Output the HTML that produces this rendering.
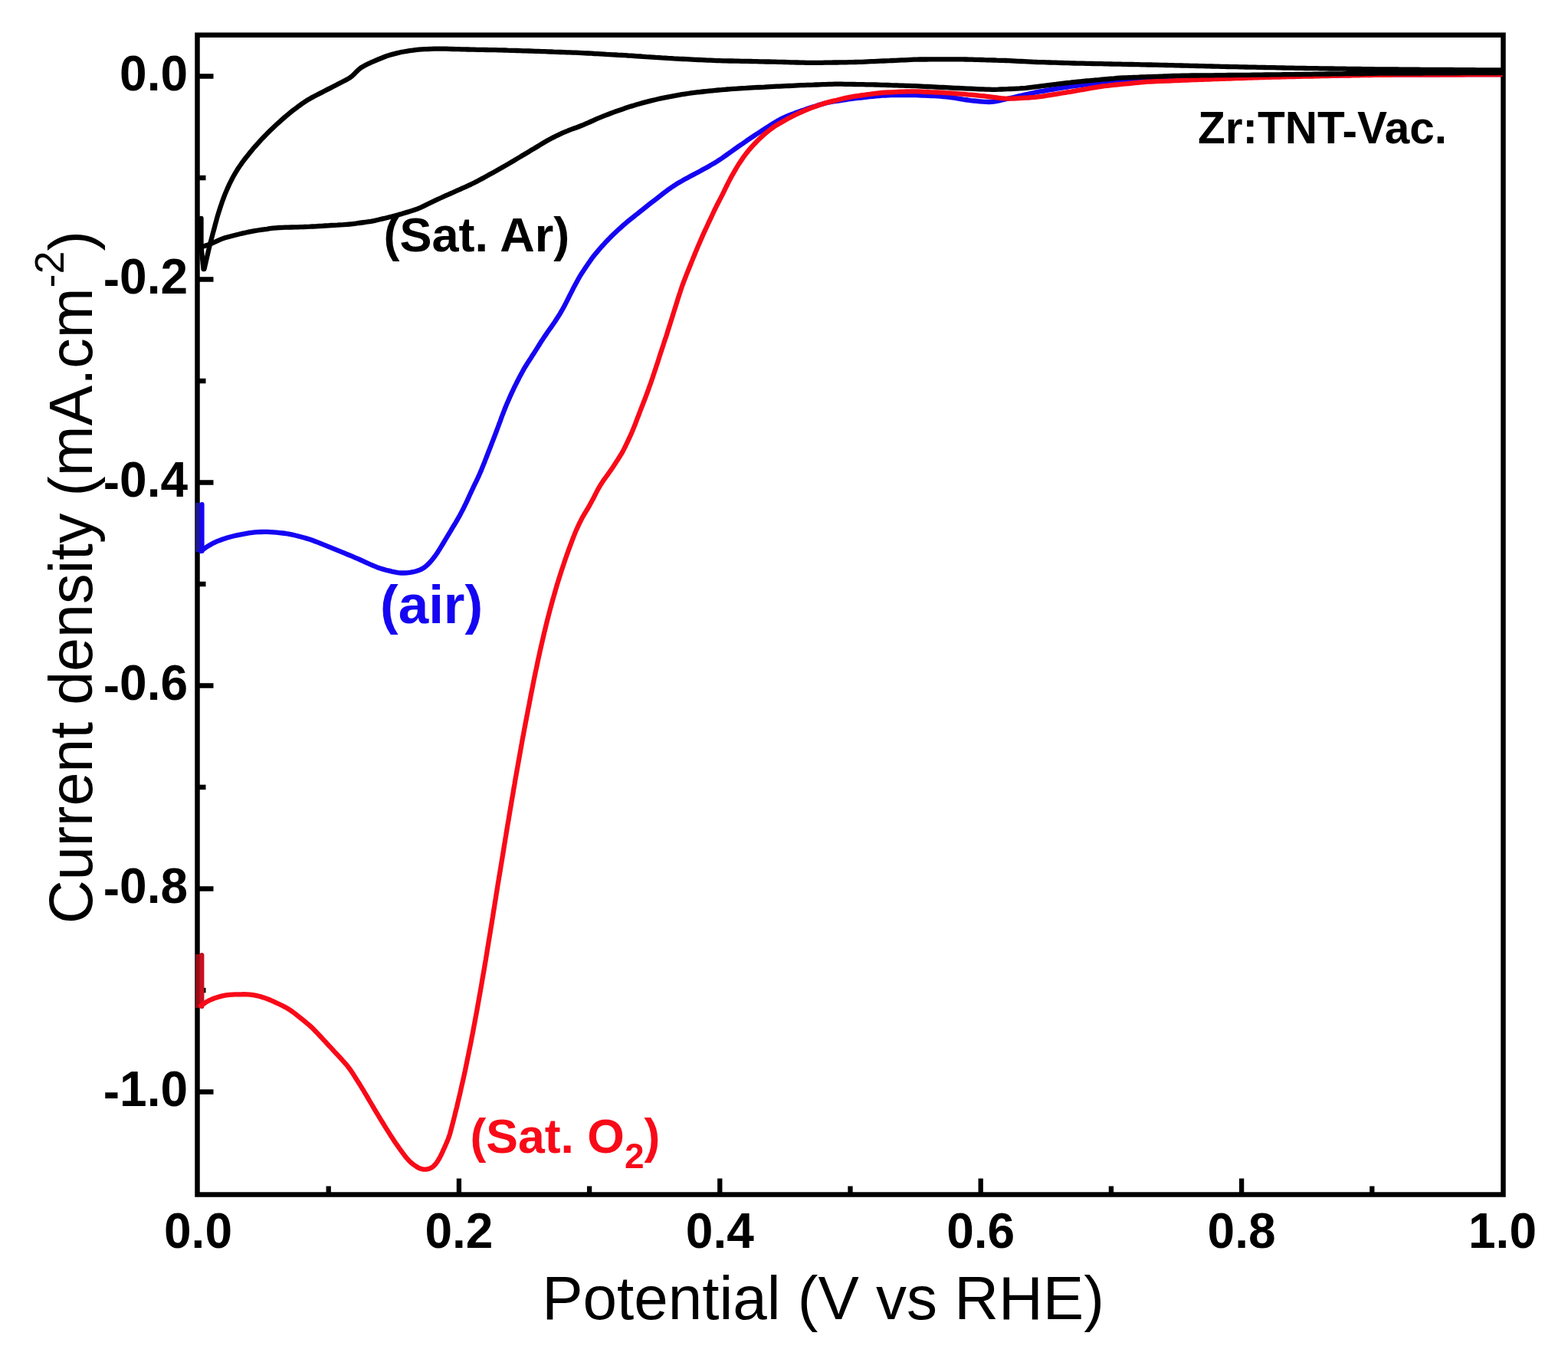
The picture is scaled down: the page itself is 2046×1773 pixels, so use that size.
<!DOCTYPE html>
<html><head><meta charset="utf-8"><title>Current density vs Potential</title>
<style>html,body{margin:0;padding:0;background:#fff;}svg{display:block;}</style>
</head><body>
<svg width="2046" height="1773" viewBox="0 0 2046 1773">
<rect width="100%" height="100%" fill="#fff"/>
<rect x="257.5" y="45.7" width="1704.0" height="1512.8" fill="none" stroke="#000" stroke-width="6.5"/>
<path d="M428.7,1558.5V1547.5 M598.9,1558.5V1537.5 M769.1,1558.5V1547.5 M939.3,1558.5V1537.5 M1109.5,1558.5V1547.5 M1279.7,1558.5V1537.5 M1449.9,1558.5V1547.5 M1620.1,1558.5V1537.5 M1790.3,1558.5V1547.5 M257.5,99.5H278.5 M257.5,232.0H268.5 M257.5,364.5H278.5 M257.5,497.0H268.5 M257.5,629.5H278.5 M257.5,762.0H268.5 M257.5,894.5H278.5 M257.5,1027.0H268.5 M257.5,1159.5H278.5 M257.5,1292.0H268.5 M257.5,1424.5H278.5" stroke="#000" stroke-width="6.3" stroke-linecap="butt"/>
<g fill="none" stroke-linejoin="round" stroke-linecap="round">
<path d="M258.2,656 V720" stroke="#1c1890" stroke-width="6" stroke-linecap="butt"/>
<path d="M263.6,658 V719" stroke="#1505f2" stroke-width="6"/>
<path d="M262.0,719.0 L265.2,716.7 L268.5,714.4 L271.9,712.2 L275.3,710.2 L278.8,708.3 L282.4,706.7 L286.1,705.2 L289.9,703.8 L293.7,702.5 L297.5,701.3 L301.3,700.3 L305.2,699.3 L309.1,698.4 L313.0,697.6 L316.9,696.8 L320.9,696.1 L324.8,695.4 L328.8,694.9 L332.7,694.4 L336.7,694.1 L340.7,694.0 L344.7,693.9 L348.7,693.9 L352.7,694.1 L356.7,694.4 L360.6,694.7 L364.6,695.1 L368.6,695.5 L372.6,696.0 L376.5,696.6 L380.4,697.4 L384.3,698.3 L388.2,699.2 L392.1,700.3 L395.9,701.3 L399.8,702.4 L403.6,703.5 L407.4,704.8 L411.1,706.2 L414.9,707.6 L418.6,709.1 L422.3,710.6 L426.0,712.1 L429.7,713.6 L433.4,715.1 L437.1,716.6 L440.8,718.1 L444.5,719.6 L448.2,721.1 L451.9,722.7 L455.7,724.2 L459.3,725.7 L463.0,727.3 L466.7,728.9 L470.4,730.5 L474.0,732.1 L477.6,733.8 L481.3,735.5 L484.9,737.1 L488.6,738.7 L492.3,740.2 L496.1,741.5 L499.9,742.6 L503.7,743.7 L507.6,744.6 L511.5,745.6 L515.4,746.4 L519.3,747.1 L523.2,747.5 L527.2,747.5 L531.1,747.3 L535.0,746.9 L539.0,746.2 L542.8,745.3 L546.5,744.1 L550.1,742.5 L553.4,740.5 L556.4,738.1 L559.3,735.4 L562.0,732.5 L564.6,729.4 L567.0,726.3 L569.4,723.0 L571.6,719.7 L573.7,716.3 L575.8,712.9 L577.9,709.5 L579.9,706.1 L582.0,702.7 L584.1,699.2 L586.1,695.8 L588.2,692.4 L590.2,688.9 L592.3,685.5 L594.4,682.1 L596.4,678.6 L598.4,675.2 L600.3,671.7 L602.2,668.1 L604.1,664.6 L605.8,661.0 L607.6,657.4 L609.3,653.8 L611.0,650.1 L612.6,646.5 L614.3,642.9 L616.0,639.2 L617.7,635.6 L619.4,632.0 L621.2,628.4 L622.9,624.8 L624.6,621.2 L626.2,617.5 L627.8,613.9 L629.3,610.1 L630.8,606.4 L632.3,602.7 L633.7,599.0 L635.2,595.3 L636.6,591.5 L638.1,587.8 L639.5,584.1 L641.0,580.3 L642.4,576.6 L643.9,572.9 L645.3,569.1 L647.1,564.5 L648.5,560.7 L649.9,557.0 L651.3,553.2 L652.7,549.5 L654.0,545.7 L655.4,542.0 L656.9,538.2 L658.3,534.5 L659.8,530.8 L661.3,527.1 L662.9,523.4 L664.5,519.7 L666.1,516.1 L667.8,512.4 L669.5,508.8 L671.2,505.2 L673.0,501.6 L674.8,498.0 L676.6,494.5 L678.4,490.9 L680.3,487.4 L682.2,483.9 L684.2,480.4 L686.3,477.0 L688.4,473.6 L690.6,470.2 L692.8,466.9 L694.9,463.5 L697.1,460.2 L699.2,456.8 L701.4,453.4 L703.5,450.0 L705.6,446.6 L707.8,443.3 L710.0,439.9 L712.3,436.6 L714.5,433.3 L716.8,430.0 L719.1,426.8 L721.4,423.5 L723.7,420.2 L725.9,416.8 L728.0,413.5 L730.2,410.1 L732.2,406.7 L734.2,403.2 L736.1,399.7 L738.0,396.1 L739.8,392.6 L741.6,389.0 L743.4,385.4 L745.2,381.9 L747.0,378.3 L748.8,374.7 L750.7,371.2 L752.6,367.7 L754.5,364.2 L756.5,360.7 L758.6,357.3 L760.8,354.0 L763.0,350.6 L765.3,347.3 L767.5,344.0 L769.8,340.7 L772.1,337.4 L774.5,334.3 L777.0,331.1 L779.6,328.1 L782.2,325.0 L784.8,322.0 L787.5,319.1 L790.2,316.2 L793.0,313.3 L795.8,310.4 L798.6,307.6 L801.5,304.8 L804.4,302.0 L807.3,299.3 L810.3,296.6 L813.3,293.9 L816.3,291.3 L819.3,288.7 L822.4,286.2 L825.6,283.7 L828.7,281.2 L831.9,278.8 L835.0,276.3 L838.2,273.8 L841.3,271.3 L844.4,268.8 L847.5,266.3 L850.7,263.8 L853.8,261.4 L857.0,259.0 L860.2,256.5 L863.3,254.1 L866.5,251.6 L869.6,249.2 L872.8,246.8 L876.1,244.5 L879.4,242.3 L882.8,240.1 L886.3,238.1 L889.7,236.1 L893.2,234.1 L896.7,232.2 L900.2,230.3 L903.8,228.4 L907.3,226.5 L910.8,224.7 L914.4,222.8 L917.9,220.8 L921.4,218.9 L924.9,216.9 L928.3,214.9 L931.8,212.9 L935.2,210.9 L938.6,208.7 L941.9,206.5 L945.2,204.2 L948.4,201.9 L951.7,199.5 L954.9,197.2 L958.2,194.9 L961.4,192.6 L965.6,189.7 L968.9,187.5 L972.1,185.2 L975.4,182.9 L978.7,180.7 L982.1,178.4 L985.4,176.2 L988.7,174.0 L992.1,171.8 L995.4,169.6 L998.8,167.5 L1002.2,165.3 L1005.5,163.1 L1008.9,161.0 L1012.4,159.0 L1015.8,157.0 L1019.3,155.1 L1022.9,153.3 L1026.6,151.7 L1030.3,150.2 L1034.0,148.8 L1037.7,147.3 L1041.5,146.0 L1045.3,144.6 L1049.1,143.4 L1052.9,142.1 L1056.7,140.8 L1060.5,139.6 L1064.3,138.4 L1068.1,137.1 L1071.9,136.0 L1075.7,134.9 L1079.6,134.0 L1083.5,133.2 L1087.5,132.5 L1091.4,131.9 L1095.4,131.3 L1099.3,130.7 L1103.3,130.1 L1107.2,129.5 L1111.2,128.9 L1115.2,128.4 L1119.1,127.9 L1123.1,127.5 L1127.1,127.0 L1131.1,126.6 L1135.1,126.2 L1139.0,125.8 L1143.0,125.4 L1147.0,125.1 L1151.0,124.7 L1155.0,124.5 L1159.0,124.3 L1163.0,124.2 L1167.0,124.1 L1171.0,124.1 L1175.0,124.1 L1179.0,124.1 L1183.0,124.1 L1187.0,124.1 L1191.0,124.2 L1195.0,124.2 L1199.0,124.3 L1203.0,124.5 L1207.0,124.7 L1211.0,124.9 L1215.0,125.0 L1219.0,125.2 L1223.0,125.4 L1227.0,125.7 L1230.9,126.0 L1234.9,126.4 L1238.9,126.8 L1242.8,127.4 L1246.8,128.0 L1250.7,128.7 L1254.7,129.3 L1258.6,130.0 L1262.6,130.5 L1266.6,131.1 L1270.5,131.5 L1274.5,131.9 L1278.5,132.3 L1282.5,132.7 L1286.5,132.9 L1290.4,133.0 L1294.4,132.8 L1298.3,132.3 L1302.2,131.6 L1306.1,130.8 L1310.0,129.9 L1313.9,129.0 L1317.8,128.1 L1321.7,127.2 L1325.6,126.3 L1329.5,125.4 L1333.4,124.5 L1337.3,123.6 L1341.2,122.7 L1345.1,121.8 L1349.0,121.0 L1352.9,120.2 L1356.9,119.4 L1360.8,118.8 L1364.7,118.1 L1368.7,117.4 L1372.6,116.8 L1376.6,116.1 L1380.5,115.5 L1384.5,114.8 L1388.4,114.2 L1392.4,113.6 L1396.3,113.0 L1400.3,112.4 L1404.3,111.8 L1408.2,111.3 L1412.2,110.8 L1416.2,110.3 L1420.1,109.8 L1424.1,109.3 L1428.1,108.8 L1432.1,108.3 L1436.0,107.8 L1440.0,107.3 L1444.0,106.8 L1447.9,106.3 L1452.9,105.8 L1456.9,105.4 L1460.9,105.0 L1464.9,104.7 L1468.9,104.5 L1472.9,104.3 L1476.9,104.1 L1480.9,103.9 L1484.8,103.7 L1488.8,103.5 L1492.8,103.3 L1496.8,103.0 L1500.8,102.8 L1504.8,102.6 L1508.8,102.4 L1512.8,102.2 L1516.8,102.0 L1520.8,101.8 L1524.8,101.6 L1528.8,101.4 L1532.8,101.3 L1536.8,101.1 L1540.8,101.0 L1544.8,100.9 L1548.8,100.8 L1552.8,100.8 L1556.8,100.7 L1560.8,100.6 L1564.8,100.6 L1568.8,100.5 L1572.8,100.4 L1576.8,100.4 L1580.8,100.3 L1584.8,100.3 L1588.8,100.2 L1592.8,100.1 L1596.8,100.1 L1600.8,100.0 L1604.8,100.0 L1608.8,99.9 L1612.8,99.8 L1616.8,99.8 L1620.8,99.7 L1624.8,99.7 L1628.8,99.6 L1632.8,99.5 L1636.8,99.5 L1640.8,99.4 L1644.9,99.4 L1648.9,99.3 L1652.9,99.3 L1656.9,99.2 L1660.9,99.2 L1664.9,99.1 L1668.9,99.1 L1672.9,99.0 L1676.9,99.0 L1680.9,98.9 L1684.9,98.9 L1688.9,98.8 L1692.9,98.8 L1696.9,98.7 L1700.9,98.7 L1704.9,98.7 L1708.9,98.6 L1712.9,98.6 L1716.9,98.5 L1720.9,98.5 L1724.9,98.4 L1728.9,98.4 L1732.9,98.3 L1736.9,98.3 L1740.9,98.2 L1744.9,98.2 L1748.9,98.1 L1752.9,98.1 L1756.9,98.0 L1760.9,98.0 L1764.9,97.9 L1768.9,97.9 L1772.9,97.8 L1776.9,97.8 L1780.9,97.7 L1784.9,97.7 L1788.9,97.6 L1792.9,97.6 L1796.9,97.6 L1800.9,97.5 L1804.9,97.5 L1808.9,97.5 L1812.9,97.5 L1816.9,97.4 L1820.9,97.4 L1824.9,97.4 L1828.9,97.4 L1832.9,97.4 L1836.9,97.4 L1840.9,97.4 L1844.9,97.4 L1848.9,97.3 L1852.9,97.3 L1856.9,97.3 L1861.0,97.3 L1865.0,97.3 L1869.0,97.3 L1873.0,97.3 L1877.0,97.3 L1881.0,97.2 L1885.0,97.2 L1889.0,97.2 L1893.0,97.2 L1897.0,97.2 L1901.0,97.2 L1905.0,97.2 L1909.0,97.2 L1913.0,97.1 L1917.0,97.1 L1921.0,97.1 L1925.0,97.1 L1929.0,97.1 L1933.0,97.1 L1937.0,97.1 L1941.0,97.1 L1945.0,97.0 L1949.0,97.0 L1953.0,97.0 L1958.0,97.0" stroke="#1505f2" stroke-width="6.3"/>
<path d="M258.2,1245 V1315" stroke="#960c16" stroke-width="6" stroke-linecap="butt"/>
<path d="M263.4,1246 V1313" stroke="#c81020" stroke-width="6"/>
<path d="M262.0,1312.0 L265.3,1309.8 L268.6,1307.6 L272.1,1305.7 L275.7,1304.0 L279.4,1302.5 L283.2,1301.2 L287.0,1300.1 L290.8,1299.1 L294.8,1298.4 L298.7,1297.9 L302.7,1297.6 L306.7,1297.4 L310.7,1297.3 L314.7,1297.3 L318.7,1297.2 L322.6,1297.3 L326.6,1297.6 L330.5,1298.1 L334.4,1298.9 L338.3,1299.8 L342.1,1300.9 L345.9,1302.1 L349.7,1303.5 L353.4,1305.0 L357.0,1306.7 L360.6,1308.3 L364.3,1310.0 L367.9,1311.8 L371.4,1313.6 L374.9,1315.5 L378.3,1317.6 L381.6,1319.9 L384.8,1322.3 L387.9,1324.7 L391.0,1327.2 L394.2,1329.7 L397.3,1332.2 L400.4,1334.8 L403.4,1337.4 L406.4,1340.0 L409.2,1342.8 L412.0,1345.7 L414.8,1348.6 L417.5,1351.5 L420.2,1354.4 L422.9,1357.4 L425.7,1360.3 L428.4,1363.3 L431.1,1366.2 L433.8,1369.1 L436.5,1372.1 L439.3,1375.0 L442.0,1377.9 L444.7,1380.9 L447.4,1383.8 L450.1,1386.8 L452.7,1389.8 L455.1,1393.0 L457.5,1396.2 L459.7,1399.5 L461.9,1402.9 L464.0,1406.2 L466.1,1409.6 L468.3,1413.0 L470.4,1416.4 L472.5,1419.8 L474.6,1423.2 L476.6,1426.7 L478.7,1430.1 L480.7,1433.6 L482.7,1437.0 L484.8,1440.5 L486.8,1443.9 L488.8,1447.3 L490.9,1450.8 L492.9,1454.2 L495.0,1457.7 L497.1,1461.1 L499.2,1464.5 L501.3,1467.9 L503.4,1471.3 L505.5,1474.7 L507.7,1478.1 L509.8,1481.5 L512.0,1484.8 L514.2,1488.2 L516.4,1491.5 L518.7,1494.7 L521.0,1498.0 L523.4,1501.3 L525.7,1504.5 L528.1,1507.7 L530.6,1510.8 L533.2,1513.8 L536.0,1516.5 L539.1,1519.0 L542.3,1521.3 L545.6,1523.3 L549.0,1524.8 L552.5,1525.6 L556.1,1525.6 L559.7,1524.9 L563.0,1523.4 L565.9,1521.2 L568.5,1518.5 L570.8,1515.3 L572.8,1512.0 L574.7,1508.5 L576.5,1504.9 L578.1,1501.2 L579.8,1497.6 L581.4,1494.0 L583.0,1490.3 L584.5,1486.6 L585.9,1482.9 L587.1,1479.1 L588.2,1475.2 L589.2,1471.3 L590.2,1467.5 L591.2,1463.6 L592.2,1459.7 L593.2,1455.8 L594.1,1451.9 L595.1,1448.1 L596.1,1444.2 L597.0,1440.3 L597.9,1436.4 L598.8,1432.5 L599.8,1428.6 L600.7,1424.7 L601.5,1420.8 L602.4,1416.9 L603.3,1413.0 L604.2,1409.1 L605.1,1405.2 L605.9,1401.3 L606.8,1397.4 L607.6,1393.4 L608.4,1389.5 L609.2,1385.6 L610.0,1381.7 L610.8,1377.8 L611.6,1373.8 L612.4,1369.9 L613.2,1366.0 L614.0,1362.1 L614.8,1358.1 L615.5,1354.2 L616.3,1350.3 L617.1,1346.3 L617.8,1342.4 L618.5,1338.5 L619.3,1334.5 L620.0,1330.6 L620.7,1326.7 L621.5,1322.7 L622.2,1318.8 L622.9,1314.9 L623.6,1310.9 L624.3,1307.0 L625.0,1303.0 L625.7,1299.1 L626.4,1295.2 L627.1,1291.2 L627.8,1287.3 L628.5,1283.3 L629.1,1279.4 L629.8,1275.4 L630.5,1271.5 L631.2,1267.6 L631.9,1263.6 L632.5,1259.7 L633.2,1255.7 L633.9,1251.8 L634.5,1247.8 L635.2,1243.9 L635.8,1239.9 L636.4,1236.0 L637.1,1232.0 L637.7,1228.1 L638.4,1224.1 L639.0,1220.2 L639.7,1216.2 L640.3,1212.3 L641.0,1208.3 L641.6,1204.4 L642.2,1200.4 L642.9,1196.5 L643.5,1192.5 L644.1,1188.6 L644.8,1184.6 L645.4,1180.6 L646.0,1176.7 L646.7,1172.7 L647.3,1168.8 L647.9,1164.8 L648.6,1160.9 L649.2,1156.9 L649.8,1153.0 L650.5,1149.0 L651.1,1145.1 L651.8,1141.1 L652.4,1137.2 L653.1,1133.2 L653.7,1129.3 L654.4,1125.3 L655.0,1121.4 L655.7,1117.4 L656.3,1113.5 L657.0,1109.5 L657.6,1105.6 L658.2,1101.6 L658.9,1097.7 L659.5,1093.7 L660.2,1089.8 L660.8,1085.8 L661.5,1081.9 L662.1,1077.9 L662.8,1074.0 L663.5,1070.0 L664.1,1066.1 L664.8,1062.1 L665.4,1058.2 L666.1,1054.2 L666.8,1050.3 L667.4,1046.3 L668.1,1042.4 L668.8,1038.5 L669.5,1034.5 L670.1,1030.6 L670.8,1026.6 L671.5,1022.7 L672.1,1018.7 L672.8,1014.8 L673.7,1009.9 L674.4,1005.9 L675.1,1002.0 L675.8,998.0 L676.5,994.1 L677.2,990.1 L677.9,986.2 L678.6,982.3 L679.3,978.3 L680.0,974.4 L680.7,970.5 L681.4,966.5 L682.1,962.6 L682.9,958.6 L683.6,954.7 L684.3,950.8 L685.1,946.8 L685.8,942.9 L686.6,939.0 L687.3,935.0 L688.1,931.1 L688.8,927.2 L689.6,923.2 L690.4,919.3 L691.1,915.4 L691.9,911.5 L692.6,907.5 L693.4,903.6 L694.2,899.7 L695.0,895.7 L695.7,891.8 L696.5,887.9 L697.3,884.0 L698.1,880.1 L698.9,876.1 L699.8,872.2 L700.6,868.3 L701.4,864.4 L702.2,860.5 L703.1,856.6 L704.0,852.6 L704.8,848.7 L705.7,844.8 L706.6,840.9 L707.5,837.0 L708.4,833.1 L709.3,829.2 L710.2,825.3 L711.2,821.4 L712.1,817.6 L713.0,813.7 L714.0,809.8 L715.0,805.9 L716.0,802.0 L717.0,798.2 L718.0,794.3 L719.1,790.4 L720.1,786.6 L721.2,782.7 L722.3,778.8 L723.4,775.0 L724.5,771.1 L725.6,767.3 L726.7,763.5 L727.9,759.6 L729.1,755.8 L730.3,752.0 L731.5,748.2 L732.7,744.4 L734.0,740.6 L735.3,736.8 L736.5,733.0 L737.8,729.2 L739.1,725.4 L740.5,721.6 L741.8,717.9 L743.2,714.1 L744.6,710.4 L746.0,706.6 L747.4,702.9 L748.9,699.1 L750.4,695.4 L751.9,691.8 L753.6,688.1 L755.2,684.5 L757.0,680.9 L758.8,677.3 L760.7,673.8 L762.7,670.4 L764.8,666.9 L766.9,663.5 L768.9,660.1 L770.8,656.6 L772.7,653.1 L774.6,649.5 L776.4,645.9 L778.2,642.4 L780.1,638.8 L782.0,635.4 L784.1,631.9 L786.3,628.6 L788.5,625.3 L790.9,622.0 L793.2,618.8 L795.5,615.5 L797.8,612.3 L800.1,608.9 L802.3,605.6 L804.4,602.2 L806.6,598.9 L808.7,595.5 L810.8,592.1 L812.8,588.6 L814.6,585.1 L816.4,581.5 L818.1,577.9 L819.8,574.3 L821.5,570.6 L823.2,567.0 L824.8,563.3 L826.3,559.6 L827.8,555.9 L829.3,552.2 L830.7,548.4 L832.1,544.7 L833.6,541.0 L835.0,537.2 L836.4,533.5 L837.9,529.8 L839.3,526.0 L840.8,522.3 L842.2,518.6 L843.6,514.8 L845.0,511.1 L846.4,507.3 L847.7,503.5 L849.1,499.8 L850.4,496.0 L851.7,492.2 L852.9,488.4 L854.2,484.6 L855.5,480.8 L856.7,477.0 L858.0,473.2 L859.2,469.4 L860.4,465.6 L861.6,461.8 L862.9,458.0 L864.1,454.2 L865.4,450.4 L866.6,446.6 L867.9,442.8 L869.2,439.0 L870.4,435.2 L871.6,431.3 L872.8,427.5 L874.0,423.7 L875.2,419.9 L876.4,416.1 L877.6,412.2 L878.8,408.4 L880.0,404.6 L881.2,400.8 L882.4,397.0 L883.6,393.1 L884.8,389.3 L886.0,385.5 L887.3,381.7 L888.5,377.9 L889.8,374.1 L891.1,370.4 L892.5,366.6 L894.0,362.9 L895.4,359.1 L896.9,355.4 L898.4,351.7 L899.9,348.0 L901.4,344.3 L902.9,340.6 L904.4,336.9 L905.9,333.2 L907.4,329.5 L909.0,325.8 L910.5,322.1 L912.1,318.4 L913.7,314.7 L915.3,311.0 L916.9,307.4 L918.5,303.7 L920.2,300.1 L921.9,296.5 L923.6,292.8 L925.3,289.2 L927.0,285.6 L928.7,282.0 L930.4,278.3 L932.1,274.7 L933.8,271.1 L935.6,267.5 L937.4,264.0 L939.3,260.4 L941.1,256.9 L942.9,253.3 L944.7,249.7 L946.4,246.1 L948.2,242.5 L950.0,238.9 L951.8,235.4 L953.7,231.8 L955.6,228.3 L957.6,224.9 L959.6,221.4 L961.6,218.0 L963.7,214.5 L965.9,211.2 L968.1,207.9 L970.4,204.6 L972.8,201.4 L975.3,198.2 L977.8,195.1 L980.4,192.1 L983.1,189.2 L985.9,186.3 L988.7,183.4 L991.5,180.6 L994.4,177.9 L997.4,175.2 L1000.5,172.6 L1003.6,170.1 L1006.8,167.7 L1010.0,165.4 L1013.4,163.2 L1016.8,161.2 L1020.3,159.2 L1023.8,157.2 L1028.2,154.8 L1031.7,153.0 L1035.2,151.1 L1038.8,149.3 L1042.4,147.6 L1046.1,146.0 L1049.8,144.4 L1053.5,142.9 L1057.2,141.4 L1060.9,139.9 L1064.7,138.6 L1068.4,137.2 L1072.2,136.0 L1076.0,134.8 L1079.9,133.6 L1083.7,132.6 L1087.6,131.6 L1091.5,130.7 L1095.4,129.7 L1099.3,128.8 L1103.2,127.9 L1107.1,127.1 L1111.0,126.4 L1115.0,125.7 L1118.9,125.1 L1122.9,124.5 L1126.9,124.0 L1130.8,123.4 L1134.8,122.9 L1138.8,122.3 L1142.7,121.8 L1146.7,121.4 L1150.7,121.0 L1154.7,120.7 L1158.7,120.5 L1162.7,120.3 L1166.7,120.1 L1170.7,119.9 L1174.7,119.7 L1178.7,119.6 L1182.7,119.4 L1186.6,119.3 L1190.6,119.3 L1194.6,119.3 L1198.6,119.4 L1202.6,119.6 L1206.6,119.8 L1210.6,120.0 L1214.6,120.2 L1218.6,120.3 L1222.6,120.5 L1226.6,120.7 L1230.6,120.9 L1234.6,121.2 L1238.6,121.4 L1242.6,121.7 L1246.6,122.0 L1250.6,122.3 L1254.6,122.6 L1258.6,122.9 L1262.6,123.3 L1266.6,123.6 L1270.5,123.9 L1274.5,124.3 L1278.5,124.8 L1282.5,125.2 L1286.4,125.7 L1290.4,126.2 L1294.4,126.7 L1298.4,127.2 L1302.3,127.7 L1306.3,128.1 L1310.3,128.4 L1314.3,128.6 L1318.3,128.6 L1322.3,128.5 L1326.3,128.3 L1330.3,128.1 L1334.2,127.9 L1338.2,127.7 L1342.2,127.5 L1346.2,127.2 L1350.2,126.9 L1354.2,126.4 L1358.2,125.9 L1362.1,125.3 L1366.1,124.7 L1370.0,124.1 L1374.0,123.4 L1377.9,122.8 L1381.9,122.1 L1385.8,121.5 L1389.8,120.9 L1393.7,120.2 L1397.7,119.6 L1401.6,118.9 L1405.6,118.2 L1409.5,117.5 L1413.4,116.8 L1417.4,116.1 L1421.3,115.4 L1425.3,114.7 L1429.2,114.1 L1433.2,113.4 L1437.1,112.8 L1441.1,112.2 L1445.0,111.8 L1449.0,111.3 L1453.0,110.9 L1457.0,110.5 L1461.0,110.1 L1465.0,109.7 L1468.9,109.4 L1472.9,109.0 L1476.9,108.6 L1480.9,108.2 L1484.9,107.8 L1488.9,107.4 L1492.8,107.0 L1496.8,106.7 L1500.8,106.5 L1504.8,106.3 L1508.8,106.1 L1512.8,105.9 L1516.8,105.8 L1520.8,105.6 L1524.8,105.5 L1528.8,105.3 L1532.8,105.2 L1536.8,105.0 L1540.8,104.8 L1544.8,104.7 L1548.8,104.5 L1552.8,104.4 L1556.8,104.2 L1560.8,104.1 L1564.8,103.9 L1568.8,103.8 L1572.8,103.6 L1576.8,103.5 L1580.8,103.3 L1584.8,103.2 L1588.8,103.1 L1592.8,102.9 L1596.8,102.8 L1600.8,102.6 L1604.8,102.5 L1608.8,102.4 L1612.8,102.2 L1616.8,102.1 L1620.8,102.0 L1624.8,101.8 L1628.8,101.7 L1632.8,101.5 L1636.8,101.4 L1640.8,101.3 L1644.8,101.1 L1648.8,101.0 L1652.8,100.9 L1656.8,100.8 L1660.8,100.7 L1664.8,100.6 L1668.8,100.5 L1672.8,100.4 L1676.8,100.3 L1680.8,100.2 L1684.8,100.1 L1688.8,100.0 L1692.8,99.9 L1696.8,99.8 L1700.8,99.7 L1704.8,99.7 L1708.8,99.6 L1712.8,99.5 L1716.9,99.4 L1720.9,99.3 L1724.9,99.2 L1728.9,99.1 L1732.9,99.0 L1736.9,98.9 L1740.9,98.8 L1744.9,98.8 L1748.9,98.7 L1752.9,98.6 L1756.9,98.5 L1760.9,98.5 L1764.9,98.4 L1768.9,98.3 L1772.9,98.3 L1776.9,98.2 L1780.9,98.1 L1784.9,98.1 L1788.9,98.0 L1792.9,97.9 L1796.9,97.9 L1800.9,97.8 L1804.9,97.8 L1808.9,97.8 L1812.9,97.8 L1816.9,97.7 L1820.9,97.7 L1824.9,97.7 L1828.9,97.7 L1832.9,97.7 L1836.9,97.7 L1840.9,97.7 L1844.9,97.7 L1848.9,97.6 L1852.9,97.6 L1856.9,97.6 L1860.9,97.6 L1864.9,97.6 L1868.9,97.6 L1872.9,97.6 L1876.9,97.6 L1880.9,97.5 L1885.0,97.5 L1889.0,97.5 L1893.0,97.5 L1897.0,97.5 L1901.0,97.5 L1905.0,97.5 L1909.0,97.5 L1913.0,97.4 L1917.0,97.4 L1921.0,97.4 L1925.0,97.4 L1929.0,97.4 L1933.0,97.4 L1937.0,97.4 L1941.0,97.4 L1945.0,97.3 L1949.0,97.3 L1953.0,97.3 L1958.0,97.3" stroke="#f80a18" stroke-width="6.3"/>
<path d="M266.5,351.0 L267.4,347.1 L268.3,343.2 L269.2,339.3 L270.1,335.4 L271.0,331.5 L271.9,327.6 L272.8,323.7 L273.8,319.8 L274.8,315.9 L275.8,312.1 L276.8,308.2 L277.8,304.3 L278.9,300.4 L279.9,296.6 L280.9,292.7 L282.0,288.8 L283.0,285.0 L284.1,281.1 L285.3,277.3 L286.5,273.5 L287.7,269.7 L289.0,265.9 L290.3,262.1 L291.7,258.3 L293.1,254.6 L294.6,250.9 L296.2,247.2 L297.8,243.6 L299.5,239.9 L301.3,236.3 L303.1,232.8 L305.0,229.3 L307.0,225.8 L309.1,222.4 L311.2,219.0 L313.5,215.7 L315.8,212.4 L318.2,209.2 L320.6,206.0 L323.1,202.9 L325.6,199.8 L328.1,196.7 L330.7,193.6 L333.3,190.6 L336.0,187.6 L338.7,184.6 L341.4,181.7 L344.2,178.8 L347.0,175.9 L349.8,173.1 L352.6,170.3 L355.5,167.5 L358.4,164.7 L361.3,162.0 L364.3,159.3 L367.3,156.6 L370.3,154.0 L373.3,151.4 L376.4,148.8 L379.5,146.3 L382.6,143.8 L385.8,141.4 L389.0,139.0 L392.3,136.6 L395.5,134.3 L398.8,132.1 L402.2,129.9 L405.7,127.9 L409.2,126.1 L412.7,124.2 L416.3,122.4 L419.9,120.6 L423.4,118.8 L427.0,116.9 L430.6,115.1 L434.1,113.3 L438.6,111.0 L442.1,109.1 L445.7,107.3 L449.2,105.5 L452.8,103.6 L456.2,101.6 L459.4,99.3 L462.2,96.6 L464.9,93.7 L467.7,90.9 L470.8,88.5 L474.2,86.5 L477.7,84.6 L481.3,82.8 L484.9,81.2 L488.6,79.6 L492.3,78.0 L496.0,76.5 L499.7,75.0 L503.4,73.5 L507.2,72.2 L511.0,71.1 L514.9,70.1 L518.8,69.1 L522.7,68.2 L526.6,67.5 L530.5,66.8 L534.5,66.2 L538.5,65.7 L542.4,65.1 L546.4,64.7 L550.4,64.3 L554.4,64.1 L558.4,64.0 L562.4,63.8 L566.4,63.7 L570.4,63.6 L574.4,63.6 L578.4,63.7 L582.4,63.7 L586.4,63.9 L590.4,64.0 L594.4,64.1 L598.4,64.2 L602.4,64.3 L606.4,64.4 L610.4,64.5 L614.4,64.6 L618.4,64.7 L622.4,64.8 L626.4,64.8 L630.4,64.9 L634.4,65.0 L638.4,65.1 L642.4,65.1 L646.4,65.2 L650.4,65.3 L654.4,65.4 L658.4,65.5 L662.4,65.7 L666.4,65.8 L670.4,65.9 L674.4,66.0 L678.4,66.1 L682.4,66.3 L686.4,66.4 L690.5,66.5 L694.5,66.6 L698.5,66.8 L702.5,66.9 L706.5,67.1 L710.5,67.2 L714.5,67.4 L718.5,67.5 L722.5,67.7 L726.5,67.8 L731.5,68.0 L735.5,68.1 L739.5,68.3 L743.5,68.4 L747.5,68.6 L751.5,68.7 L755.5,68.9 L759.5,69.1 L763.5,69.3 L767.5,69.5 L771.5,69.7 L775.5,70.0 L779.5,70.2 L783.5,70.4 L787.5,70.6 L791.4,70.9 L795.4,71.1 L799.4,71.3 L803.4,71.5 L807.4,71.8 L811.4,72.0 L815.4,72.2 L819.4,72.5 L823.4,72.7 L827.4,73.0 L831.4,73.3 L835.4,73.5 L839.4,73.8 L843.4,74.1 L847.4,74.3 L851.4,74.6 L855.4,74.9 L859.4,75.1 L863.4,75.4 L867.4,75.6 L871.4,75.9 L875.4,76.1 L879.4,76.4 L883.4,76.6 L887.4,76.8 L891.4,77.0 L895.4,77.2 L899.4,77.4 L903.3,77.6 L907.3,77.8 L911.3,78.0 L915.3,78.2 L919.3,78.4 L923.3,78.6 L927.3,78.7 L931.3,78.9 L935.3,79.1 L939.3,79.2 L943.3,79.3 L947.4,79.4 L951.4,79.5 L955.4,79.5 L959.4,79.6 L963.4,79.7 L967.4,79.8 L971.4,79.9 L975.4,79.9 L979.4,80.0 L983.4,80.1 L987.4,80.2 L991.4,80.3 L995.4,80.4 L999.4,80.5 L1003.4,80.5 L1007.4,80.6 L1011.4,80.7 L1015.4,80.8 L1019.4,80.9 L1023.4,81.0 L1027.4,81.1 L1031.4,81.3 L1035.4,81.4 L1040.4,81.5 L1044.4,81.6 L1048.4,81.7 L1052.4,81.8 L1056.4,81.9 L1060.4,81.9 L1064.4,81.9 L1068.4,81.9 L1072.4,81.8 L1076.4,81.7 L1080.4,81.7 L1084.4,81.6 L1088.4,81.5 L1092.5,81.5 L1096.5,81.4 L1100.5,81.3 L1104.5,81.3 L1108.5,81.2 L1112.5,81.1 L1116.5,81.0 L1120.5,80.9 L1124.5,80.8 L1128.5,80.6 L1132.5,80.4 L1136.5,80.2 L1140.5,80.1 L1144.5,79.9 L1148.5,79.7 L1152.5,79.5 L1156.5,79.3 L1160.5,79.2 L1164.5,79.0 L1168.5,78.8 L1172.5,78.6 L1176.5,78.4 L1180.5,78.3 L1184.5,78.1 L1188.5,77.9 L1192.5,77.7 L1196.5,77.6 L1200.5,77.5 L1204.5,77.5 L1208.5,77.5 L1212.5,77.4 L1216.5,77.4 L1220.5,77.4 L1224.5,77.4 L1228.5,77.4 L1232.5,77.4 L1236.5,77.4 L1240.5,77.4 L1244.5,77.3 L1248.5,77.3 L1252.5,77.3 L1256.5,77.4 L1260.5,77.5 L1264.5,77.6 L1268.5,77.7 L1272.5,77.8 L1276.5,77.9 L1280.5,78.0 L1284.5,78.2 L1288.5,78.3 L1292.5,78.4 L1296.5,78.5 L1300.5,78.7 L1304.5,78.8 L1308.5,78.9 L1312.5,79.0 L1316.5,79.2 L1320.5,79.4 L1324.5,79.6 L1328.5,79.8 L1332.5,80.0 L1336.5,80.2 L1340.5,80.4 L1345.5,80.6 L1349.5,80.8 L1353.5,81.0 L1357.5,81.1 L1361.5,81.2 L1365.5,81.4 L1369.5,81.5 L1373.5,81.6 L1377.6,81.7 L1381.6,81.9 L1385.6,82.0 L1389.6,82.1 L1393.6,82.2 L1397.6,82.4 L1401.6,82.5 L1405.6,82.6 L1409.6,82.7 L1413.6,82.7 L1417.6,82.8 L1421.6,82.9 L1425.6,83.0 L1429.6,83.1 L1433.6,83.1 L1437.6,83.2 L1441.6,83.3 L1445.6,83.4 L1449.6,83.5 L1453.6,83.6 L1457.6,83.6 L1461.6,83.7 L1465.6,83.8 L1469.6,83.9 L1473.6,84.0 L1477.6,84.0 L1481.6,84.1 L1485.6,84.2 L1489.6,84.3 L1493.6,84.4 L1497.6,84.5 L1501.6,84.5 L1505.6,84.6 L1509.6,84.7 L1513.6,84.8 L1517.6,84.9 L1521.6,85.0 L1525.6,85.1 L1529.7,85.2 L1533.7,85.3 L1537.7,85.4 L1541.7,85.5 L1545.7,85.6 L1549.7,85.7 L1553.7,85.8 L1557.7,85.9 L1561.7,86.0 L1565.7,86.1 L1569.7,86.2 L1573.7,86.3 L1577.7,86.4 L1581.7,86.5 L1585.7,86.6 L1589.7,86.7 L1593.7,86.8 L1597.7,86.9 L1601.7,87.0 L1605.7,87.1 L1609.7,87.1 L1613.7,87.2 L1617.7,87.3 L1621.7,87.4 L1625.7,87.5 L1629.7,87.6 L1633.7,87.6 L1637.7,87.7 L1641.7,87.8 L1645.7,87.9 L1649.7,88.0 L1654.7,88.1 L1658.7,88.2 L1662.7,88.2 L1666.7,88.3 L1670.7,88.4 L1674.8,88.5 L1678.8,88.6 L1682.8,88.6 L1686.8,88.7 L1690.8,88.8 L1694.8,88.9 L1698.8,88.9 L1702.8,89.0 L1706.8,89.1 L1710.8,89.1 L1714.8,89.2 L1718.8,89.2 L1722.8,89.3 L1726.8,89.3 L1730.8,89.4 L1734.8,89.5 L1738.8,89.5 L1742.8,89.6 L1746.8,89.6 L1750.8,89.7 L1754.8,89.7 L1758.8,89.8 L1762.8,89.8 L1766.8,89.9 L1770.8,90.0 L1774.8,90.0 L1778.8,90.1 L1782.8,90.1 L1786.8,90.2 L1790.8,90.2 L1794.8,90.3 L1798.9,90.4 L1802.9,90.4 L1806.9,90.4 L1810.9,90.5 L1814.9,90.5 L1818.9,90.5 L1822.9,90.5 L1826.9,90.6 L1830.9,90.6 L1834.9,90.6 L1838.9,90.7 L1842.9,90.7 L1846.9,90.7 L1850.9,90.7 L1854.9,90.8 L1858.9,90.8 L1862.9,90.8 L1866.9,90.9 L1870.9,90.9 L1874.9,90.9 L1878.9,90.9 L1882.9,91.0 L1886.9,91.0 L1890.9,91.0 L1894.9,91.0 L1898.9,91.1 L1902.9,91.1 L1907.0,91.1 L1911.0,91.2 L1915.0,91.2 L1919.0,91.2 L1923.0,91.2 L1927.0,91.3 L1931.0,91.3 L1935.0,91.3 L1939.0,91.4 L1943.0,91.4 L1947.0,91.4 L1951.0,91.4 L1955.0,91.5 L1960.0,91.5" stroke="#000" stroke-width="6.3"/>
<path d="M263.7,322.0 L267.5,320.7 L271.3,319.4 L275.0,318.0 L278.7,316.5 L282.3,314.8 L286.0,313.1 L289.7,311.6 L293.4,310.3 L297.3,309.2 L301.1,308.2 L305.0,307.2 L308.9,306.2 L312.8,305.3 L316.7,304.4 L320.6,303.5 L324.5,302.7 L328.4,301.9 L332.4,301.2 L336.3,300.5 L340.3,299.9 L344.2,299.3 L348.2,298.8 L352.1,298.2 L356.1,297.7 L360.1,297.3 L364.1,297.0 L368.1,296.8 L372.1,296.7 L376.1,296.6 L380.1,296.5 L384.1,296.4 L388.1,296.3 L392.1,296.1 L396.1,296.0 L400.1,295.8 L404.1,295.7 L408.1,295.5 L412.1,295.3 L416.1,295.0 L420.1,294.8 L424.1,294.5 L428.1,294.3 L432.0,294.0 L436.0,293.8 L440.0,293.6 L444.0,293.3 L448.0,293.1 L452.0,292.8 L456.0,292.5 L460.0,292.1 L464.0,291.6 L467.9,291.0 L471.9,290.5 L475.9,290.0 L479.8,289.4 L483.8,288.8 L487.7,288.1 L491.6,287.2 L495.5,286.3 L499.4,285.4 L503.3,284.5 L507.2,283.5 L511.1,282.6 L515.0,281.6 L518.8,280.5 L522.7,279.4 L526.5,278.2 L530.3,277.1 L534.2,275.9 L538.0,274.8 L541.8,273.5 L545.5,272.2 L549.2,270.6 L552.8,268.9 L556.4,267.1 L560.0,265.3 L563.6,263.6 L567.2,261.9 L570.8,260.2 L574.5,258.5 L578.1,256.9 L581.8,255.2 L585.4,253.6 L589.1,252.0 L592.7,250.3 L596.4,248.7 L600.1,247.1 L603.7,245.4 L607.4,243.8 L611.0,242.1 L614.6,240.5 L618.2,238.7 L621.8,236.9 L625.3,235.0 L628.9,233.1 L632.4,231.2 L635.9,229.3 L639.4,227.3 L642.9,225.4 L646.4,223.5 L649.9,221.6 L653.4,219.6 L656.9,217.6 L660.3,215.6 L663.8,213.6 L667.2,211.5 L670.7,209.5 L674.1,207.4 L678.4,204.9 L681.8,202.8 L685.3,200.7 L688.7,198.7 L692.1,196.6 L695.6,194.6 L699.0,192.5 L702.4,190.5 L705.8,188.4 L709.3,186.3 L712.7,184.3 L716.2,182.3 L719.7,180.4 L723.3,178.6 L726.9,176.8 L730.5,175.1 L734.1,173.4 L737.8,171.8 L741.5,170.3 L745.2,168.9 L749.0,167.5 L752.7,166.2 L756.5,164.7 L760.2,163.3 L763.9,161.7 L767.6,160.1 L771.2,158.5 L774.9,156.8 L778.5,155.2 L782.2,153.7 L785.9,152.2 L789.6,150.7 L793.4,149.2 L797.1,147.8 L800.8,146.4 L804.6,145.0 L808.4,143.7 L812.2,142.4 L816.0,141.1 L819.8,139.8 L823.6,138.6 L827.4,137.5 L831.2,136.3 L835.1,135.2 L838.9,134.1 L842.8,133.1 L846.7,132.1 L850.6,131.1 L854.5,130.2 L858.4,129.3 L862.3,128.4 L866.2,127.6 L870.1,126.8 L874.0,126.1 L878.0,125.3 L881.9,124.6 L885.9,123.9 L889.8,123.2 L893.8,122.6 L897.7,122.0 L901.7,121.4 L905.6,120.9 L909.6,120.4 L913.6,120.0 L917.6,119.5 L921.5,119.1 L925.5,118.7 L929.5,118.3 L933.5,117.9 L937.5,117.5 L941.5,117.2 L945.5,116.8 L949.4,116.5 L953.4,116.2 L957.4,115.8 L961.4,115.6 L965.4,115.3 L969.4,115.1 L973.4,114.9 L977.4,114.6 L981.4,114.4 L985.4,114.2 L989.4,114.0 L993.4,113.8 L997.4,113.6 L1001.4,113.3 L1005.4,113.1 L1009.4,112.9 L1013.4,112.7 L1017.4,112.6 L1021.4,112.4 L1025.4,112.2 L1029.4,112.0 L1033.4,111.8 L1037.4,111.6 L1041.4,111.4 L1045.4,111.2 L1049.4,111.1 L1053.4,110.9 L1057.4,110.8 L1061.4,110.7 L1065.4,110.5 L1069.4,110.4 L1073.4,110.2 L1077.4,110.1 L1081.4,109.9 L1085.4,109.8 L1089.4,109.7 L1094.4,109.7 L1098.4,109.7 L1102.4,109.8 L1106.4,109.9 L1110.4,109.9 L1114.4,110.0 L1118.4,110.1 L1122.4,110.1 L1126.4,110.2 L1130.4,110.3 L1134.4,110.3 L1138.4,110.4 L1142.4,110.5 L1146.4,110.6 L1150.4,110.8 L1154.4,110.9 L1158.4,111.0 L1162.4,111.2 L1166.4,111.3 L1170.4,111.4 L1174.4,111.6 L1178.4,111.7 L1182.4,111.8 L1186.4,111.9 L1190.4,112.1 L1194.4,112.2 L1198.4,112.4 L1202.4,112.6 L1206.4,112.8 L1210.4,113.0 L1214.4,113.2 L1218.4,113.4 L1222.4,113.6 L1226.4,113.8 L1230.4,114.0 L1234.4,114.2 L1238.4,114.4 L1242.4,114.6 L1246.4,114.8 L1250.4,115.0 L1254.4,115.2 L1258.4,115.4 L1262.4,115.6 L1266.4,115.7 L1270.4,115.9 L1274.4,116.1 L1278.4,116.3 L1282.4,116.4 L1286.4,116.6 L1290.4,116.7 L1294.4,116.8 L1298.4,116.8 L1302.4,116.7 L1306.4,116.5 L1310.4,116.3 L1314.4,116.2 L1318.4,116.0 L1322.4,115.8 L1326.4,115.6 L1330.4,115.4 L1334.3,115.1 L1338.3,114.8 L1342.3,114.3 L1346.3,113.8 L1350.3,113.3 L1354.2,112.8 L1358.2,112.3 L1362.2,111.8 L1366.1,111.3 L1370.1,110.8 L1374.1,110.3 L1378.1,109.9 L1382.0,109.4 L1386.0,108.9 L1390.0,108.4 L1394.0,108.0 L1397.9,107.5 L1401.9,107.1 L1405.9,106.7 L1409.9,106.3 L1413.9,105.9 L1417.9,105.5 L1421.8,105.2 L1425.8,104.8 L1429.8,104.4 L1433.8,104.1 L1437.8,103.7 L1441.8,103.3 L1445.8,103.0 L1449.7,102.6 L1453.7,102.3 L1457.7,101.9 L1461.7,101.6 L1465.7,101.4 L1469.7,101.3 L1473.7,101.1 L1477.7,101.0 L1481.7,100.8 L1485.7,100.7 L1489.7,100.5 L1493.7,100.4 L1497.7,100.2 L1501.7,100.1 L1505.7,99.9 L1509.7,99.8 L1513.7,99.6 L1517.7,99.5 L1521.7,99.3 L1526.7,99.2 L1530.7,99.0 L1534.7,98.9 L1538.7,98.8 L1542.7,98.7 L1546.7,98.6 L1550.7,98.6 L1554.7,98.5 L1558.7,98.5 L1562.7,98.5 L1566.7,98.4 L1570.7,98.4 L1574.7,98.3 L1578.7,98.3 L1582.7,98.3 L1586.7,98.2 L1590.7,98.2 L1594.7,98.1 L1598.7,98.1 L1602.8,98.0 L1606.8,98.0 L1610.8,98.0 L1614.8,97.9 L1618.8,97.9 L1622.8,97.8 L1626.8,97.8 L1630.8,97.8 L1634.8,97.7 L1638.8,97.7 L1642.8,97.6 L1646.8,97.6 L1650.8,97.5 L1654.8,97.5 L1658.8,97.4 L1662.8,97.4 L1666.8,97.3 L1670.8,97.3 L1674.8,97.2 L1678.8,97.2 L1682.8,97.1 L1686.8,97.1 L1690.8,97.0 L1694.8,97.0 L1698.8,96.9 L1702.8,96.9 L1706.8,96.8 L1710.8,96.8 L1714.8,96.7 L1718.8,96.7 L1722.8,96.6 L1726.8,96.6 L1730.8,96.5 L1734.8,96.5 L1738.8,96.4 L1742.8,96.4 L1746.8,96.3 L1750.8,96.3 L1754.9,96.2 L1758.9,96.2 L1762.9,96.1 L1766.9,96.1 L1770.9,96.1 L1774.9,96.0 L1778.9,96.0 L1782.9,95.9 L1786.9,95.9 L1790.9,95.8 L1794.9,95.8 L1798.9,95.7 L1802.9,95.7 L1806.9,95.7 L1810.9,95.7 L1814.9,95.6 L1818.9,95.6 L1822.9,95.6 L1826.9,95.6 L1830.9,95.6 L1834.9,95.6 L1838.9,95.5 L1842.9,95.5 L1846.9,95.5 L1850.9,95.5 L1854.9,95.5 L1858.9,95.4 L1862.9,95.4 L1866.9,95.4 L1870.9,95.4 L1874.9,95.4 L1878.9,95.4 L1882.9,95.3 L1886.9,95.3 L1890.9,95.3 L1895.0,95.3 L1899.0,95.3 L1903.0,95.3 L1907.0,95.2 L1911.0,95.2 L1915.0,95.2 L1919.0,95.2 L1923.0,95.2 L1927.0,95.1 L1931.0,95.1 L1935.0,95.1 L1939.0,95.1 L1943.0,95.1 L1947.0,95.1 L1951.0,95.0 L1955.0,95.0 L1960.0,95.0" stroke="#000" stroke-width="6.3"/>
<path d="M262.5,285 L262.5,322 L265.5,351" stroke="#000" stroke-width="6.3"/>
</g>
<text x="245.0" y="118.0" font-family="Liberation Sans, Arial, sans-serif" font-weight="bold" font-size="64.0" text-anchor="end">0.0</text>
<text x="245.0" y="383.0" font-family="Liberation Sans, Arial, sans-serif" font-weight="bold" font-size="64.0" text-anchor="end"><tspan dy="3.0">-</tspan><tspan dy="-3.0">0.2</tspan></text>
<text x="245.0" y="648.0" font-family="Liberation Sans, Arial, sans-serif" font-weight="bold" font-size="64.0" text-anchor="end"><tspan dy="3.0">-</tspan><tspan dy="-3.0">0.4</tspan></text>
<text x="245.0" y="913.0" font-family="Liberation Sans, Arial, sans-serif" font-weight="bold" font-size="64.0" text-anchor="end"><tspan dy="3.0">-</tspan><tspan dy="-3.0">0.6</tspan></text>
<text x="245.0" y="1178.0" font-family="Liberation Sans, Arial, sans-serif" font-weight="bold" font-size="64.0" text-anchor="end"><tspan dy="3.0">-</tspan><tspan dy="-3.0">0.8</tspan></text>
<text x="245.0" y="1443.0" font-family="Liberation Sans, Arial, sans-serif" font-weight="bold" font-size="64.0" text-anchor="end"><tspan dy="3.0">-</tspan><tspan dy="-3.0">1.0</tspan></text>
<text x="258.5" y="1628.0" font-family="Liberation Sans, Arial, sans-serif" font-weight="bold" font-size="64.0" text-anchor="middle">0.0</text>
<text x="598.9" y="1628.0" font-family="Liberation Sans, Arial, sans-serif" font-weight="bold" font-size="64.0" text-anchor="middle">0.2</text>
<text x="939.3" y="1628.0" font-family="Liberation Sans, Arial, sans-serif" font-weight="bold" font-size="64.0" text-anchor="middle">0.4</text>
<text x="1279.7" y="1628.0" font-family="Liberation Sans, Arial, sans-serif" font-weight="bold" font-size="64.0" text-anchor="middle">0.6</text>
<text x="1620.1" y="1628.0" font-family="Liberation Sans, Arial, sans-serif" font-weight="bold" font-size="64.0" text-anchor="middle">0.8</text>
<text x="1960.5" y="1628.0" font-family="Liberation Sans, Arial, sans-serif" font-weight="bold" font-size="64.0" text-anchor="middle">1.0</text>
<text x="1074.0" y="1720.5" font-family="Liberation Sans, Arial, sans-serif" font-size="80.0" text-anchor="middle">Potential (V vs RHE)</text>
<text transform="translate(119.5,753.2) rotate(-90)" font-family="Liberation Sans, Arial, sans-serif" font-size="79.0" text-anchor="middle">Current density (mA.cm<tspan font-size="54.0" dy="-36.5">-2</tspan><tspan dy="36.5">)</tspan></text>
<text x="1563.0" y="187.0" font-family="Liberation Sans, Arial, sans-serif" font-weight="bold" font-size="58.5">Zr:TNT<tspan dy="4.0">-</tspan><tspan dy="-4.0">Vac.</tspan></text>
<text x="500.5" y="328.0" font-family="Liberation Sans, Arial, sans-serif" font-weight="bold" font-size="63.0">(Sat. Ar)</text>
<text x="496.0" y="813.0" font-family="Liberation Sans, Arial, sans-serif" font-weight="bold" font-size="71.0" fill="#1505f2">(air)</text>
<text x="613.5" y="1504.0" font-family="Liberation Sans, Arial, sans-serif" font-weight="bold" font-size="62.5" fill="#f80a18">(Sat. O<tspan font-size="46.0" dy="20.0">2</tspan><tspan dy="-20.0">)</tspan></text>
</svg>
</body></html>
